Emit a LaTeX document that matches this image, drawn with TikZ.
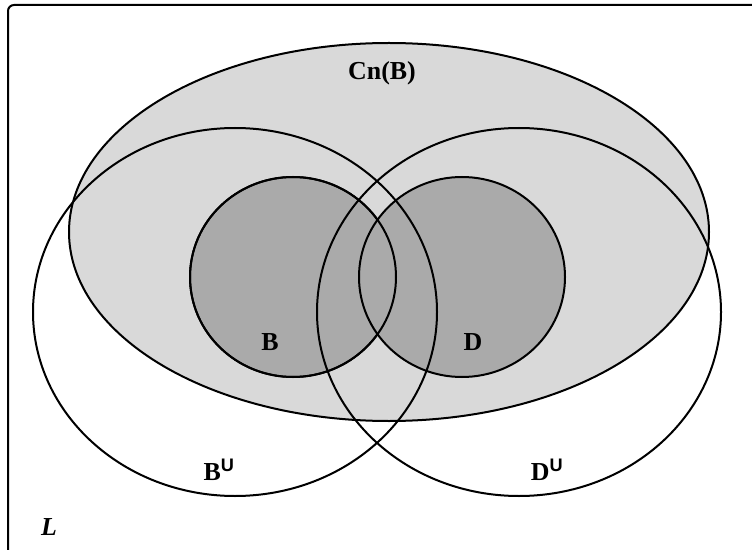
\documentclass[tikz,border=0pt]{standalone}
\usepackage{fontspec}
\setmainfont{Liberation Serif}
\setsansfont{Liberation Sans}
\usetikzlibrary{positioning}
\definecolor{lightfill}{HTML}{D9D9D9}
\definecolor{darkfill}{HTML}{AAAAAA}

\begin{document}
\begin{tikzpicture}[
  x=1bp, y=-1bp,
  set/.style={draw=black, line width=2bp},
  lab/.style={font=\fontsize{26}{30}\selectfont\bfseries, inner sep=0pt}
]
  \useasboundingbox (0,0) rectangle (752,550);
  \clip (0,0) rectangle (752,550);

  % universe frame (runs past the right and bottom edges)
  \draw[line width=2bp, rounded corners=6bp] (8,5) rectangle (790,590);

  % --- Cn(B)
  \filldraw[set, fill=lightfill] (389,232) ellipse [x radius=320, y radius=189];

  % --- B and D
  \filldraw[set, fill=darkfill] (293,277) ellipse [x radius=103, y radius=100];
  \filldraw[set, fill=darkfill] (462,277) ellipse [x radius=103, y radius=100];
  \draw[set] (293,277) ellipse [x radius=103, y radius=100];

  % --- upper bounds
  \draw[set] (235,312) ellipse [x radius=202, y radius=184];
  \draw[set] (519,312) ellipse [x radius=202, y radius=184];

  % labels
  \node[lab] (cnb) at (382,73)  {Cn(B)};
  \node[lab] (bset) at (270,342) {B};
  \node[lab] (dset) at (473,342) {D};
  \node[lab] (bup) at (219,470) {B\textsuperscript{\sffamily U}};
  \node[lab] (dup) at (547,470) {D\textsuperscript{\sffamily U}};
  \node[lab] (univ) at (49,527) {\itshape L};
\end{tikzpicture}
\end{document}
